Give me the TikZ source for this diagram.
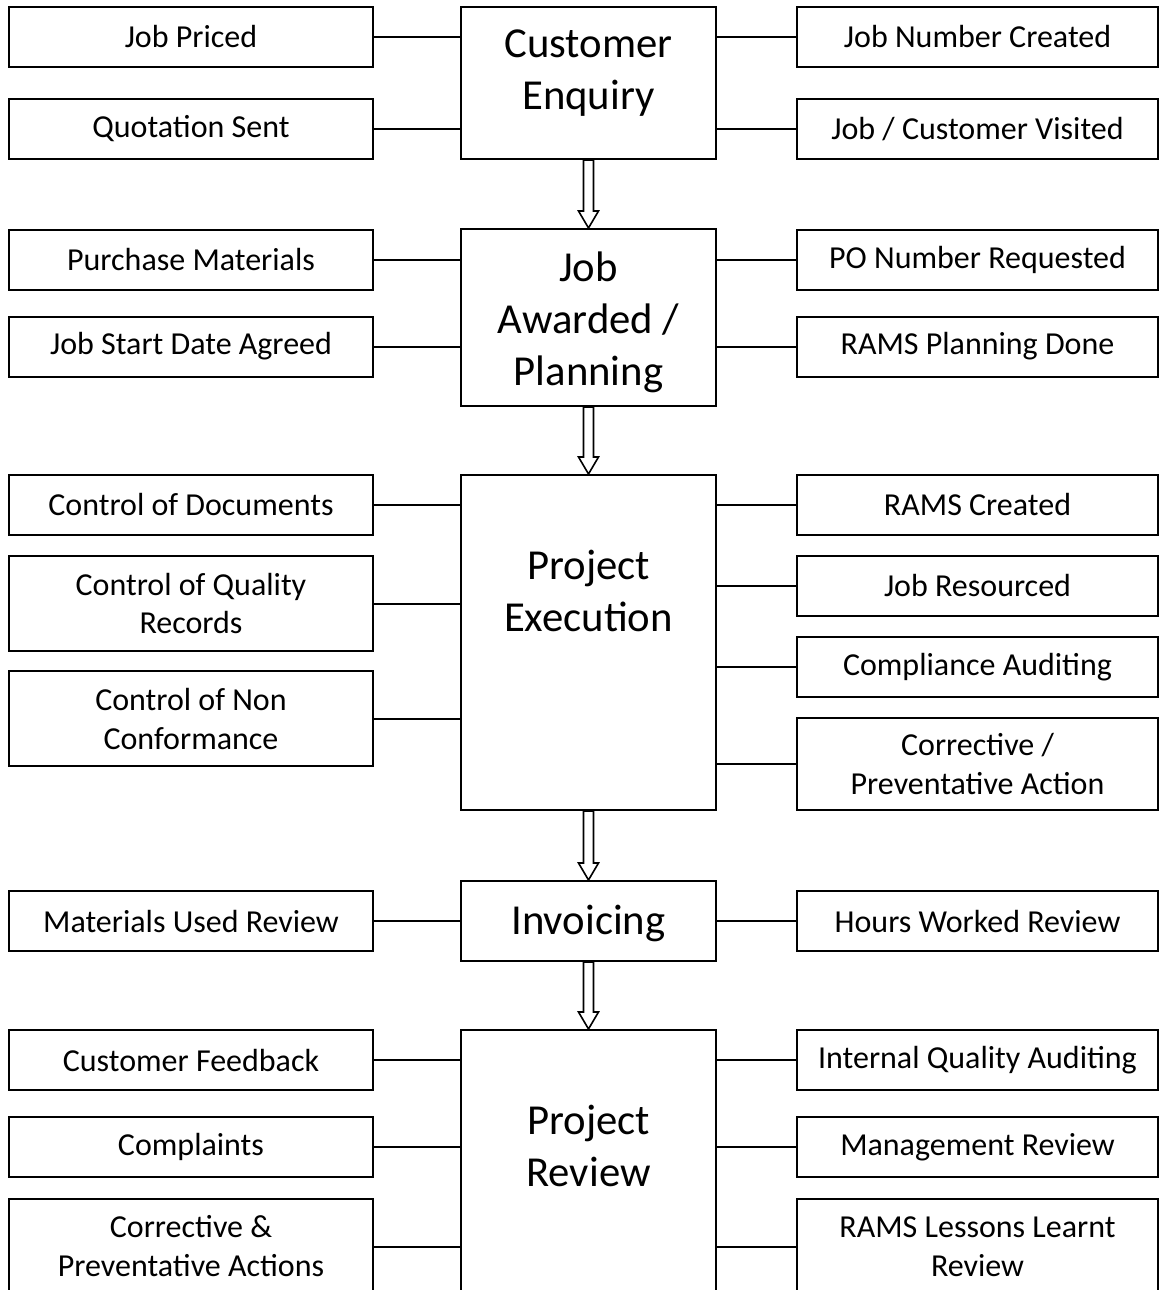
\documentclass[tikz,border=0pt]{standalone}
\usepackage{fontspec}
\setmainfont{Carlito}
\usetikzlibrary{calc}
\tikzset{
  sbox/.style={draw, line width=2pt, inner sep=0pt, align=center, minimum width=364pt, minimum height=60pt, font=\fontsize{32}{39}\selectfont},
  rbox/.style={sbox, minimum width=361pt},
  cbox/.style={draw, line width=2pt, inner sep=0pt, align=center, minimum width=255pt, font=\fontsize{42.7}{52}\selectfont},
  ctext/.style={inner sep=0pt, align=center, font=\fontsize{42.7}{52}\selectfont},
  conn/.style={line width=2pt},
  harrow/.style={line width=1.6pt, fill=white, line join=miter}
}
\newcommand{\hollowarrow}[2]{%
  \draw[harrow] ($(#1)+(-5,0)$) -- ($(#2)+(-5,-17)$) -- ($(#2)+(-10,-17)$) -- (#2) -- ($(#2)+(10,-17)$) -- ($(#2)+(5,-17)$) -- ($(#1)+(5,0)$) -- cycle;}
\begin{document}
\begin{tikzpicture}[x=1pt,y=-1pt]
\useasboundingbox (0,0) rectangle (1160,1290);
\clip (0,0) rectangle (1160,1290);
% Row 1
\node[cbox, minimum height=152pt] (ce) at (588.5,83) {};
\node[ctext] (cet) at (588.5,73) {Customer\\Enquiry};
\node[sbox] (l11) at (191,37) {Job Priced};
\node[sbox] (l12) at (191,129) {Quotation Sent};
\node[rbox] (r11) at (977.5,37) {Job Number Created};
\node[rbox] (r12) at (977.5,129) {Job / Customer Visited};
\draw[conn] (l11.east) -- (l11.east -| ce.west);
\draw[conn] (l12.east) -- (l12.east -| ce.west);
\draw[conn] (r11.west) -- (r11.west -| ce.east);
\draw[conn] (r12.west) -- (r12.west -| ce.east);
% Row 2
\node[cbox, minimum height=177pt] (ja) at (588.5,317.5) {};
\node[ctext] (jat) at (588.5,322) {Job\\Awarded /\\Planning};
\node[sbox] (l21) at (191,259.5) {Purchase Materials};
\node[sbox] (l22) at (191,346.5) {Job Start Date Agreed};
\node[rbox] (r21) at (977.5,259.5) {PO Number Requested};
\node[rbox] (r22) at (977.5,346.5) {RAMS Planning Done};
\draw[conn] (l21.east) -- (l21.east -| ja.west);
\draw[conn] (l22.east) -- (l22.east -| ja.west);
\draw[conn] (r21.west) -- (r21.west -| ja.east);
\draw[conn] (r22.west) -- (r22.west -| ja.east);
\hollowarrow{ce.south}{ja.north}
% Row 3
\node[cbox, minimum height=335pt] (pe) at (588.5,642.5) {};
\node[ctext] (pet) at (588.5,591) {Project\\Execution};
\node[sbox] (l31) at (191,505) {Control of Documents};
\node[sbox, minimum height=95pt] (l32) at (191,603.5) {Control of Quality\\Records};
\node[sbox, minimum height=95pt] (l33) at (191,718.5) {Control of Non\\Conformance};
\node[rbox] (r31) at (977.5,505) {RAMS Created};
\node[rbox] (r32) at (977.5,586) {Job Resourced};
\node[rbox] (r33) at (977.5,667) {Compliance Auditing};
\node[rbox, minimum height=92pt] (r34) at (977.5,764) {Corrective /\\Preventative Action};
\draw[conn] (l31.east) -- (l31.east -| pe.west);
\draw[conn] (l32.east) -- (l32.east -| pe.west);
\draw[conn] (l33.east) -- (l33.east -| pe.west);
\draw[conn] (r31.west) -- (r31.west -| pe.east);
\draw[conn] (r32.west) -- (r32.west -| pe.east);
\draw[conn] (r33.west) -- (r33.west -| pe.east);
\draw[conn] (r34.west) -- (r34.west -| pe.east);
\hollowarrow{ja.south}{pe.north}
% Row 4
\node[cbox, minimum height=80pt] (inv) at (588.5,921) {};
\node[ctext] (invt) at (588.5,923) {Invoicing};
\node[sbox] (l41) at (191,921) {Materials Used Review};
\node[rbox] (r41) at (977.5,921) {Hours Worked Review};
\draw[conn] (l41.east) -- (l41.east -| inv.west);
\draw[conn] (r41.west) -- (r41.west -| inv.east);
\hollowarrow{pe.south}{inv.north}
% Row 5
\node[cbox, minimum height=300pt] (pr) at (588.5,1180) {};
\node[ctext] (prt) at (588.5,1146) {Project\\Review};
\node[sbox] (l51) at (191,1060) {Customer Feedback};
\node[sbox] (l52) at (191,1147) {Complaints};
\node[sbox, minimum height=95pt] (l53) at (191,1246.5) {Corrective \&\\Preventative Actions};
\node[rbox] (r51) at (977.5,1060) {Internal Quality Auditing};
\node[rbox] (r52) at (977.5,1147) {Management Review};
\node[rbox, minimum height=95pt] (r53) at (977.5,1246.5) {RAMS Lessons Learnt\\Review};
\draw[conn] (l51.east) -- (l51.east -| pr.west);
\draw[conn] (l52.east) -- (l52.east -| pr.west);
\draw[conn] (l53.east) -- (l53.east -| pr.west);
\draw[conn] (r51.west) -- (r51.west -| pr.east);
\draw[conn] (r52.west) -- (r52.west -| pr.east);
\draw[conn] (r53.west) -- (r53.west -| pr.east);
\hollowarrow{inv.south}{pr.north}
\end{tikzpicture}
\end{document}
